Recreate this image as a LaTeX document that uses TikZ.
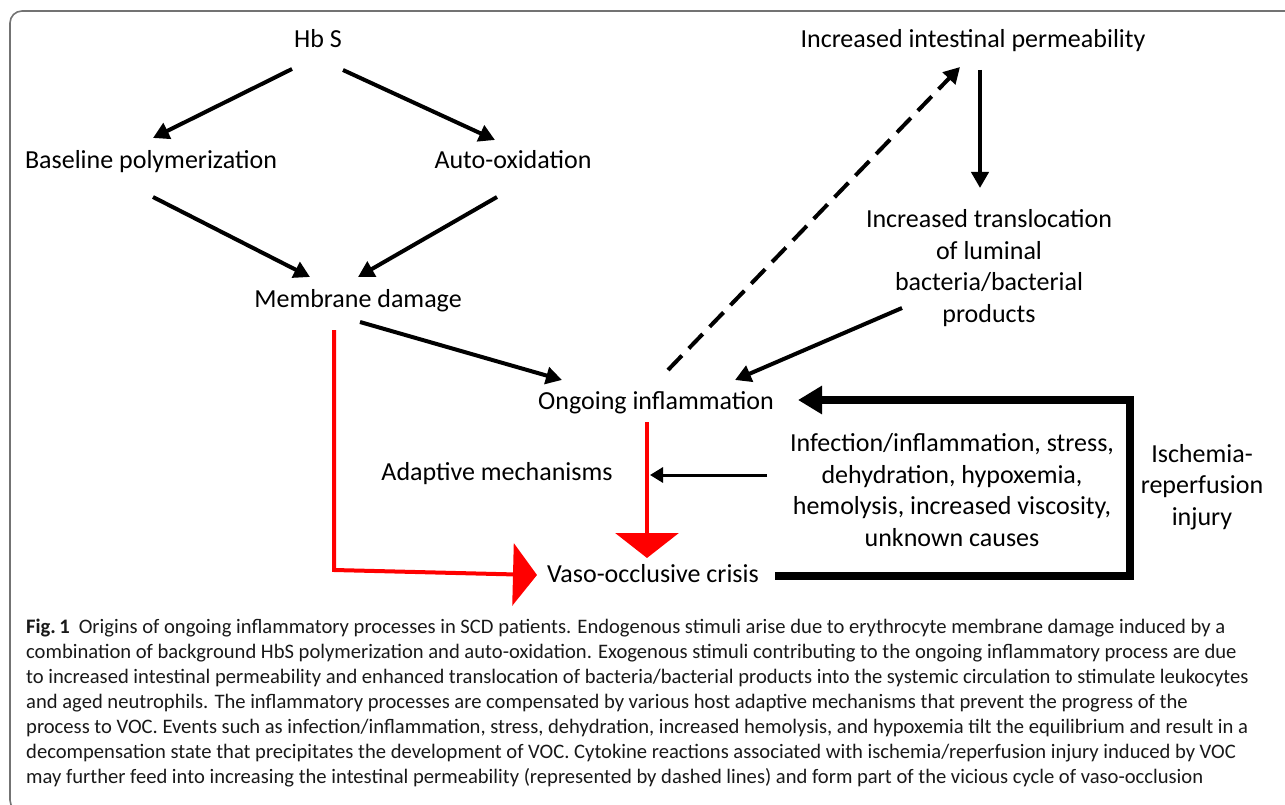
\documentclass[tikz,border=0pt]{standalone}
\usepackage{fontspec}
\setmainfont{Carlito}
\newfontfamily\capfont{Carlito}
\usetikzlibrary{arrows.meta,calc}
\begin{document}
\begin{tikzpicture}[x=1pt,y=-1pt,
  lbl/.style={inner sep=0pt, font=\fontsize{26}{31.5}\selectfont, align=center},
  arr/.style={line width=4pt, -{Triangle[length=16pt,width=17pt]}},
  thinarr/.style={line width=3pt, -{Triangle[length=13pt,width=15pt]}},
  dasharr/.style={line width=4pt, dash pattern=on 20pt off 10pt, -{Triangle[length=16pt,width=17pt]}},
  redbig/.style={draw=red, line width=4pt, line join=miter},
  loopline/.style={line width=8pt, line join=miter, -{Triangle[length=24pt,width=27pt]}},
  framestyle/.style={draw=black!55, line width=1.6pt, rounded corners=12pt}]
\useasboundingbox (0,0) rectangle (1285,805);
\draw[framestyle] (1300,11) -- (10,11) -- (10,812) -- (1300,812);

% nodes
\node[lbl, anchor=base] (hbs)   at (318,48)  {Hb S};
\node[lbl, anchor=base] (base)  at (151,169) {Baseline polymerization};
\node[lbl, anchor=base] (auto)  at (513,169) {Auto-oxidation};
\node[lbl, anchor=base] (mem)   at (358,307) {Membrane damage};
\node[lbl, anchor=base] (ong)   at (656,409) {Ongoing inflammation};
\node[lbl, anchor=base] (adapt) at (497,480) {Adaptive mechanisms};
\node[lbl, anchor=base] (vaso)  at (653,582) {Vaso-occlusive crisis};
\node[lbl, anchor=base] (perm)  at (973,48)  {Increased intestinal permeability};
\node[lbl] (trans) at (989,268) {Increased translocation\\of luminal\\bacteria/bacterial\\products};
\node[lbl] (inf)   at (952,490) {Infection/inflammation, stress,\\dehydration, hypoxemia,\\hemolysis, increased viscosity,\\unknown causes};
\node[lbl] (isch)  at (1202,487) {Ischemia-\\reperfusion\\injury};

% black arrows
\draw[arr] ($(hbs.base)+(-26,21)$) -- ($(base.base)+(2,-31)$);
\draw[arr] ($(hbs.base)+(25,22)$) -- ($(auto.base)+(-18,-29)$);
\draw[arr] ($(base.base)+(2,28)$) -- ($(mem.base)+(-48,-30)$);
\draw[arr] ($(auto.base)+(-16,28)$) -- ($(mem.base)+(0,-30)$);
\draw[arr] ($(mem.base)+(2,15)$) -- ($(ong.base)+(-94,-29)$);
\draw[dasharr] ($(ong.base)+(12,-39)$) -- ($(perm.base)+(-13,19)$);
\draw[arr] ($(perm.base)+(7,22)$) -- ($(trans.center)+(-9,-80)$);
\draw[arr] ($(trans.center)+(-87,40)$) -- ($(ong.base)+(79,-29)$);

% red paths
\coordinate (redjoin) at ($(ong.base)+(-6,66)$);
\draw[redbig, -{Triangle[length=25pt,width=63pt]}] ($(ong.base)+(-9,13)$) -- ($(vaso.base)+(-6,-24)$);
\draw[redbig, -{Triangle[length=24pt,width=62pt]}] ($(mem.base)+(-24,23)$) -- ($(mem.base)+(-24,263)$) -- ($(vaso.base)+(-116,-7)$);

% adaptive arrow
\draw[thinarr] ($(inf.center)+(-185,-15)$) -- (redjoin);

% loop
\draw[loopline] ($(vaso.base)+(122,-6)$) -| ($(ong.base)+(474,-9)$) -- ($(ong.base)+(142,-9)$);

% caption
\node[anchor=north west, inner sep=0pt, align=left, text=black!90,
      font=\capfont\fontsize{20.6}{25}\selectfont] (cap) at (26,619)
{\textbf{Fig.\,1}\hspace{9pt}Origins of ongoing inflammatory processes in SCD patients. Endogenous stimuli arise due to erythrocyte membrane damage induced by a\\
combination of background HbS polymerization and auto-oxidation. Exogenous stimuli contributing to the ongoing inflammatory process are due\\
to increased intestinal permeability and enhanced translocation of bacteria/bacterial products into the systemic circulation to stimulate leukocytes\\
and aged neutrophils. The inflammatory processes are compensated by various host adaptive mechanisms that prevent the progress of the\\
process to VOC. Events such as infection/inflammation, stress, dehydration, increased hemolysis, and hypoxemia tilt the equilibrium and result in a\\
decompensation state that precipitates the development of VOC. Cytokine reactions associated with ischemia/reperfusion injury induced by VOC\\
may further feed into increasing the intestinal permeability (represented by dashed lines) and form part of the vicious cycle of vaso-occlusion};
\end{tikzpicture}
\end{document}
